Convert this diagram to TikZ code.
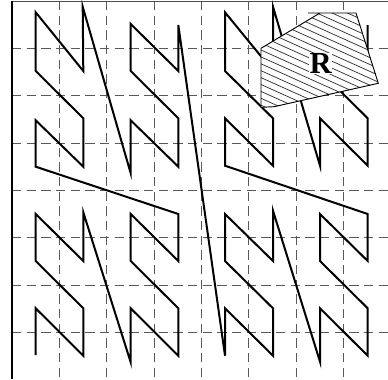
\documentclass[tikz,border=0pt]{standalone}
\usepackage{fontspec}
\setmainfont{Liberation Serif}
\usetikzlibrary{positioning}

\begin{document}
\begin{tikzpicture}[x=0.75pt,y=-0.75pt,
  gridline/.style={draw=black!65,line width=0.7pt,dash pattern=on 7pt off 4pt},
  curve/.style={draw=black,line width=1.5pt,line join=miter},
  region/.style={draw=black,line width=0.7pt},
  hatch/.style={draw=black!80,line width=0.55pt}]
  \useasboundingbox (0,0) rectangle (388,379);
  \foreach \i in {1,...,7} {
    \draw[gridline] ({12+47.33*\i},1) -- ({12+47.33*\i},379);
    \draw[gridline] (12,{1+47.33*\i}) -- (388,{1+47.33*\i});
  }
  \draw[black!70,line width=0.7pt] (12,1) -- (388,1);
  \draw[black,line width=0.8pt] (12,1) -- (12,379);
  \draw[curve] (35.7,355) -- (35.7,308.3) -- (83.3,355.7) -- (83.3,308.3)
    -- (35.7,261) -- (35.7,214) -- (83.3,261) -- (83.3,212.3)
    -- (130.7,362.3) -- (130.7,308.3) -- (178.3,355.7) -- (178.3,308.3)
    -- (130.7,261) -- (130.7,214) -- (178.3,261) -- (178.3,214)
    -- (35.7,166.7) -- (35.7,120.3) -- (83.3,166.7) -- (83.3,118.3)
    -- (35.7,71) -- (35.7,12.3) -- (83.3,71) -- (82.7,6.7)
    -- (130.7,173.3) -- (130.7,120.3) -- (178.3,166.7) -- (178.3,118.3)
    -- (130.7,71) -- (130.7,24) -- (178.3,71) -- (178.3,25)
    -- (225,355.7) -- (225,308.3) -- (273,355.7) -- (273,308.3)
    -- (225,261) -- (225,214) -- (273,261) -- (273,210.7)
    -- (320,361.7) -- (320,308.3) -- (367.7,355.7) -- (367.7,308.3)
    -- (320,261) -- (320,214) -- (367.7,261) -- (367.7,214)
    -- (225,165.7) -- (225,118.3) -- (273,165.7) -- (273,118.3)
    -- (225,71) -- (225,12.3) -- (273,71) -- (273,6.7)
    -- (320,165.7) -- (320,118.3) -- (367.7,165.7) -- (367.7,118.3)
    -- (320,71) -- (320,24) -- (367.7,71) -- (367.7,25);
  \fill[white] (261,48.3) -- (320,13) -- (356,13) -- (378.3,83.3)
    -- (274,106.7) -- (261,107.3) -- cycle;
  \begin{scope}
    \clip (261,48.3) -- (320,13) -- (356,13) -- (378.3,83.3)
      -- (274,106.7) -- (261,107.3) -- cycle;
    \foreach \k in {-14,...,9}
      \draw[hatch] (250,{-67.45+6.9*\k+0.45*250}) -- (390,{-67.45+6.9*\k+0.45*390});
  \end{scope}
  \draw[region] (320,13) -- (261,48.3) -- (261,107.3) -- (274,106.7)
    -- (378.3,83.3) -- (356,13) -- (308,13);
  \node[fill=white,inner sep=0.5pt,font=\fontsize{23}{23}\selectfont\bfseries] (r) at (320.7,63.3) {R};
\end{tikzpicture}
\end{document}
